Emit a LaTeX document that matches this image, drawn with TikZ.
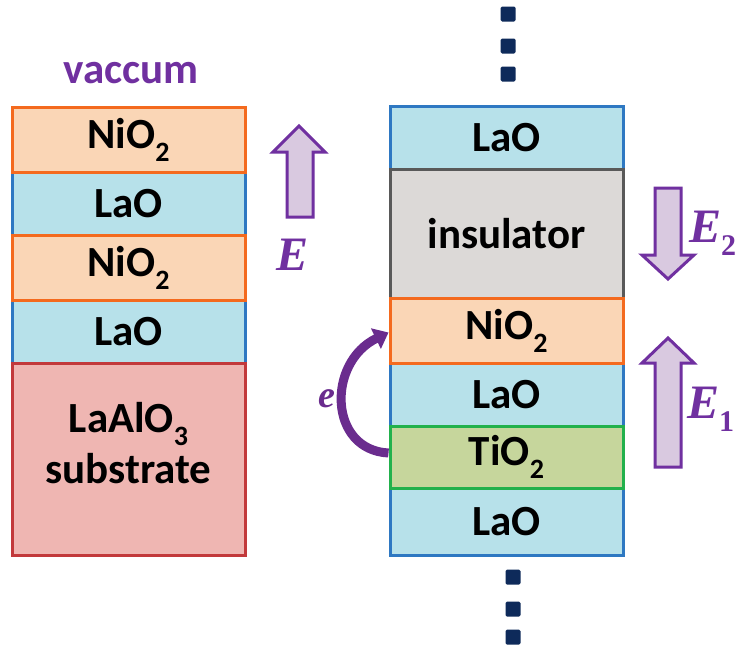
\documentclass[tikz,border=0pt]{standalone}
\usepackage{fontspec}
\setmainfont{Carlito}
\newfontfamily\serifit{Liberation Serif}
\usetikzlibrary{arrows.meta}
\definecolor{laofill}{HTML}{B7E1EA}
\definecolor{laoline}{HTML}{2E78C2}
\definecolor{niofill}{HTML}{FAD6B6}
\definecolor{nioline}{HTML}{F46A1E}
\definecolor{subfill}{HTML}{EFB6B2}
\definecolor{subline}{HTML}{C2393B}
\definecolor{insfill}{HTML}{DCD9D7}
\definecolor{insline}{HTML}{595959}
\definecolor{tiofill}{HTML}{C6D69C}
\definecolor{tioline}{HTML}{22B14C}
\definecolor{purp}{HTML}{7030A0}
\definecolor{earrow}{HTML}{6A2C8E}
\definecolor{arrfill}{HTML}{D9C9E0}
\definecolor{dotc}{HTML}{0E2A5A}
\newcommand{\mysub}[1]{\raisebox{-0.3em}{\fontsize{28}{28}\selectfont #1}}
\newcommand{\esub}[1]{\raisebox{-0.28em}{\fontsize{30}{30}\selectfont\upshape #1}}
\tikzset{
  layer/.style={minimum width=233pt, minimum height=#1, inner sep=0pt, line width=3pt,
    font=\fontsize{43}{50}\selectfont\bfseries, align=center},
  lao/.style={layer=#1, fill=laofill, draw=laoline},
  nio/.style={layer=#1, fill=niofill, draw=nioline},
  blockarrow/.style={draw=purp, fill=arrfill, line width=3pt, line join=miter},
  elabel/.style={text=purp, font=\serifit\bfseries\itshape\fontsize{48}{48}\selectfont, inner sep=0pt},
  dotsq/.style={fill=dotc, rounded corners=1.5pt}
}
\begin{document}
\begin{tikzpicture}[x=1pt,y=-1pt]
\useasboundingbox[fill=white] (0,0) rectangle (736,651);
% left stack
\node[lao=63pt] (L2) at (128.5,203.5) {LaO};
\node[lao=63pt] (L4) at (128.5,331.5) {LaO};
\node[nio=65pt] (L1) at (128.5,139.5) {NiO\mysub{2}};
\node[nio=65pt] (L3) at (128.5,267.5) {NiO\mysub{2}};
\node[layer=192pt, fill=subfill, draw=subline] (L5) at (128.5,459) {};
\node[font=\fontsize{43}{51}\selectfont\bfseries, align=center, inner sep=0pt] (subtxt) at (128.5,443) {LaAlO\mysub{3}\\substrate};
\node[text=purp, font=\fontsize{43}{44}\selectfont\bfseries, inner sep=0pt] (vac) at (131,73) {vaccum};
% right stack
\node[lao=63pt] (R1) at (506.5,137.5) {LaO};
\node[lao=63pt] (R4) at (506.5,394.5) {LaO};
\node[lao=67pt] (R6) at (506.5,521.5) {LaO};
\node[layer=129pt, fill=insfill, draw=insline] (R2) at (506.5,233.5) {insulator};
\node[nio=65pt] (R3) at (506.5,330.5) {NiO\mysub{2}};
\node[layer=62pt, fill=tiofill, draw=tioline] (R5) at (506.5,457) {TiO\mysub{2}};
% block arrows
\draw[blockarrow] (287,217) -- (287,152) -- (273,152) -- (299,126) -- (325,152) -- (313,152) -- (313,217) -- cycle;
\draw[blockarrow] (655,188) -- (655,255) -- (642,255) -- (668,279) -- (694,255) -- (681,255) -- (681,188) -- cycle;
\draw[blockarrow] (655,467) -- (655,363) -- (642,363) -- (668,338) -- (694,363) -- (681,363) -- (681,467) -- cycle;
\node[elabel, anchor=base west] (E) at (276,270) {E};
\node[elabel, anchor=base west] (E2) at (689,242) {E\esub{2}};
\node[elabel, anchor=base west] (E1) at (687,418) {E\esub{1}};
% electron transfer
\draw[earrow, line width=9pt, -{Triangle[width=22pt,length=14pt]}]
  ([yshift=4pt]R5.west) .. controls +(-60,-3) and +(-62,30) .. ([yshift=-2pt]R3.west);
\node[text=earrow, font=\serifit\bfseries\itshape\fontsize{38}{38}\selectfont, inner sep=0pt, anchor=base west] (e) at (318,407) {e};
% dots
\foreach \yy in {14,46,74} \fill[dotsq] (500.5,\yy-7.5) rectangle (515.5,\yy+7.5);
\foreach \yy in {577,609,637} \fill[dotsq] (505.5,\yy-7.5) rectangle (520.5,\yy+7.5);
\end{tikzpicture}
\end{document}
